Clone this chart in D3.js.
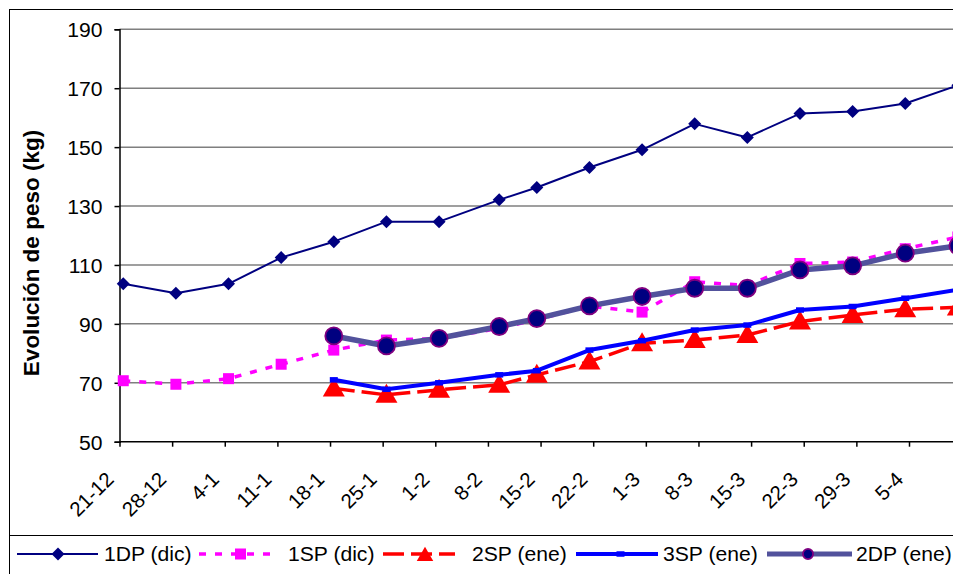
<!DOCTYPE html>
<html>
<head>
<meta charset="utf-8">
<script src="https://cdn.jsdelivr.net/npm/d3@7"></script>
<style>
  body { margin: 0; background: #fff; }
  text { font-family: "Liberation Sans", Arial, sans-serif; fill: #000; }
</style>
</head>
<body>
<svg class="chart" width="953" height="574"></svg>
<script>
// tick labels of the date axis (every 7 days)
var tickLabels = ["21-12","28-12","4-1","11-1","18-1","25-1","1-2","8-2","15-2","22-2","1-3","8-3","15-3","22-3","29-3","5-4"];
// weighing dates
var weighDates = ["21-12","28-12","4-1","11-1","18-1","25-1","1-2","9-2","14-2","21-2","28-2","7-3","14-3","21-3","28-3","4-4","11-4"];
var yTicks = [50, 70, 90, 110, 130, 150, 170, 190];

var dp1Dic = [103.6,100.4,103.6,112.5,117.9,124.7,124.7,132.1,136.3,143.1,149.1,157.9,153.3,161.4,162.1,164.8,171];
var sp1Dic = [70.7,69.5,71.4,76.3,81.1,84.5,85,88.5,91.5,96,94,104.3,103,110.5,111,115.5,119.5];
var sp2Ene = [null,null,null,null,68.1,65.9,67.6,69.3,72.7,77.2,83.4,84.5,86.2,90.8,93.0,95.0,95.6];
var sp3Ene = [null,null,null,null,71.0,67.8,70.0,72.7,74.1,81.1,84.3,87.9,89.6,94.7,95.9,98.7,101.6];
var dp2Ene = [null,null,null,null,85.9,82.5,85.1,89.1,91.8,96.1,99.3,102.1,102.1,108.3,109.7,114.0,116.5];

function parseDay(s) {
    var p = s.split("-");
    var m = +p[1] - 1;
    return new Date(Date.UTC(m == 11 ? 2006 : 2007, m, +p[0]));
}

var svg = d3.select(".chart");
var plot = {left: 119.5, top: 29.3, right: 953, bottom: 441.7};
var fontSize = 20.5;

// x: date axis, points sit in the middle of their day
var x = d3.scaleUtc()
    .domain([parseDay(tickLabels[0]), parseDay(tickLabels[tickLabels.length - 1])])
    .range([plot.left, 909]);
var y = d3.scaleLinear()
    .domain([50, 190])
    .range([plot.bottom, plot.top]);

function px(i) { return x(d3.utcHour.offset(parseDay(weighDates[i]), 12)); }

// chart frame
svg.append("rect")
    .attr("x", 9.5).attr("y", 9.5)
    .attr("width", 960).attr("height", 600)
    .attr("fill", "none").attr("stroke", "#000").attr("stroke-width", 1);

// gridlines
svg.append("g")
    .selectAll("line")
    .data(yTicks.slice(1))
    .enter().append("line")
    .attr("x1", plot.left).attr("x2", plot.right)
    .attr("y1", function(d) { return y(d); })
    .attr("y2", function(d) { return y(d); })
    .attr("stroke", "#7f7f7f")
    .attr("stroke-width", 1.5);

// y axis
var yAxis = svg.append("g")
    .attr("transform", "translate(" + plot.left + ",0)")
    .call(d3.axisLeft(y).tickValues(yTicks).tickSize(5).tickPadding(12));
yAxis.select(".domain").attr("stroke-width", 1.5);
yAxis.selectAll(".tick line").attr("stroke-width", 1.5);
yAxis.selectAll("text").attr("font-size", fontSize).attr("dy", "0.36em");

// x axis
var xAxis = svg.append("g")
    .attr("transform", "translate(0," + plot.bottom + ")")
    .call(d3.axisBottom(x)
        .tickValues(tickLabels.map(parseDay))
        .tickFormat(function(d, i) { return tickLabels[i]; })
        .tickSize(5)
        .tickSizeOuter(0));
xAxis.select(".domain").attr("d", "M" + plot.left + ",0H" + plot.right).attr("stroke-width", 1.5);
xAxis.selectAll(".tick line").attr("stroke-width", 1.5);
xAxis.selectAll("text")
    .attr("font-size", fontSize)
    .attr("y", 0).attr("dy", 0)
    .attr("text-anchor", "end")
    .attr("transform", "translate(-5,39) rotate(-45)");

// y axis title
svg.append("text")
    .attr("transform", "translate(31,253) rotate(-90)")
    .attr("text-anchor", "middle")
    .attr("dy", "0.35em")
    .attr("font-size", 22.5)
    .attr("font-weight", "bold")
    .text("Evolución de peso (kg)");

// series styles
var series = [
    {name: "1DP (dic)", values: dp1Dic, color: "#000080", width: 2, dash: null, marker: "diamond"},
    {name: "1SP (dic)", values: sp1Dic, color: "#ff00ff", width: 3.5, dash: "7,9", marker: "square"},
    {name: "2SP (ene)", values: sp2Ene, color: "#ff0000", width: 3.5, dash: "21,7", marker: "triangle"},
    {name: "3SP (ene)", values: sp3Ene, color: "#0000ff", width: 4, dash: null, marker: "dash"},
    {name: "2DP (ene)", values: dp2Ene, color: "#52529c", width: 5.5, dash: null, marker: "circle"}
];

var line = d3.line()
    .defined(function(d) { return d.v != null; })
    .x(function(d) { return px(d.i); })
    .y(function(d) { return y(d.v); });

function drawMarker(g, type, cx, cy, k) {
    k = k || 1;
    if (type == "diamond") {
        g.append("path")
            .attr("d", "M" + cx + "," + (cy - 6.5) + "L" + (cx + 6.5) + "," + cy + "L" + cx + "," + (cy + 6.5) + "L" + (cx - 6.5) + "," + cy + "Z")
            .attr("fill", "#000080");
    } else if (type == "square") {
        g.append("rect")
            .attr("x", cx - 5.5).attr("y", cy - 5.5)
            .attr("width", 11).attr("height", 11)
            .attr("fill", "#ff00ff");
    } else if (type == "triangle") {
        g.append("path")
            .attr("d", "M" + cx + "," + (cy - 11 * k) + "L" + (cx + 11 * k) + "," + (cy + 8 * k) + "L" + (cx - 11 * k) + "," + (cy + 8 * k) + "Z")
            .attr("fill", "#ff0000");
    } else if (type == "dash") {
        g.append("line")
            .attr("x1", cx - 4).attr("x2", cx + 4)
            .attr("y1", cy).attr("y2", cy)
            .attr("stroke", "#0000ff").attr("stroke-width", 5.5);
    } else if (type == "circle") {
        g.append("circle")
            .attr("cx", cx).attr("cy", cy).attr("r", 8.5 * k)
            .attr("fill", "#000080")
            .attr("stroke", "#800080").attr("stroke-width", 1.8);
    }
}

series.forEach(function(s) {
    var pts = s.values.map(function(v, i) { return {i: i, v: v}; });
    var g = svg.append("g");
    g.append("path")
        .datum(pts)
        .attr("fill", "none")
        .attr("stroke", s.color)
        .attr("stroke-width", s.width)
        .attr("stroke-dasharray", s.dash)
        .attr("stroke-linejoin", "round")
        .attr("d", line);
    pts.filter(function(d) { return d.v != null; }).forEach(function(d) {
        drawMarker(g, s.marker, px(d.i), y(d.v));
    });
});

// legend
svg.append("line")
    .attr("x1", 9.5).attr("x2", 953)
    .attr("y1", 535.5).attr("y2", 535.5)
    .attr("stroke", "#000").attr("stroke-width", 1);

var legendPos = [
    {x1: 17, x2: 98, mx: 58, tx: 104},
    {x1: 199, x2: 279, mx: 240.5, tx: 288},
    {x1: 383, x2: 455, mx: 425, tx: 472},
    {x1: 576, x2: 658, mx: 620.5, tx: 663},
    {x1: 767, x2: 852, mx: 808, tx: 856}
];
var ly = 554;
series.forEach(function(s, i) {
    var p = legendPos[i];
    var g = svg.append("g");
    g.append("line")
        .attr("x1", p.x1).attr("x2", p.x2)
        .attr("y1", ly).attr("y2", ly)
        .attr("stroke", s.color)
        .attr("stroke-width", s.marker == "circle" ? 5 : s.width)
        .attr("stroke-dasharray", s.dash);
    var mk = s.marker == "triangle" ? ly + 1 : ly;
    drawMarker(g, s.marker, p.mx, mk, s.marker == "circle" ? 0.6 : 0.75);
    g.append("text")
        .attr("x", p.tx).attr("y", ly)
        .attr("dy", "0.36em")
        .attr("font-size", fontSize)
        .text(s.name);
});

// widen text a little, as in the original
svg.selectAll("text").each(function() {
    var t = d3.select(this);
    if (t.attr("transform") && t.attr("transform").indexOf("rotate") >= 0) return;
    var w = this.getComputedTextLength();
    t.attr("textLength", w * 1.03).attr("lengthAdjust", "spacingAndGlyphs");
});
</script>
</body>
</html>
